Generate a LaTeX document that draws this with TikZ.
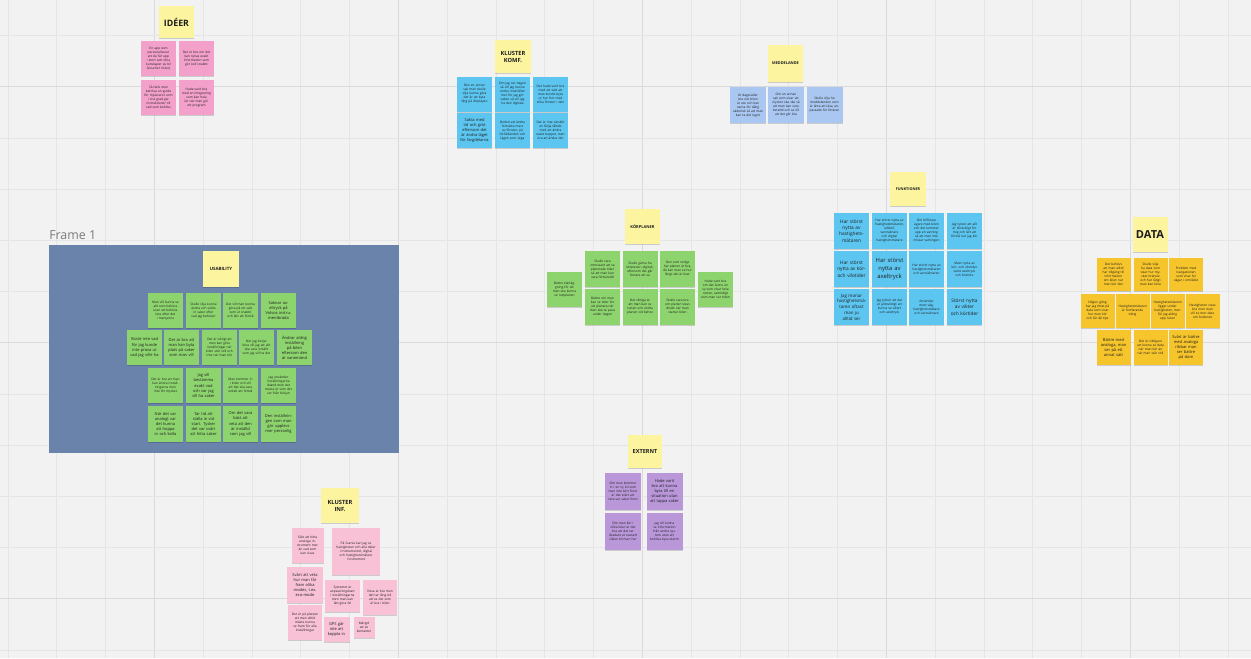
\documentclass[tikz,border=0pt]{standalone}
\usepackage{fontspec}
\setmainfont{Open Sans}
\usetikzlibrary{shadows}
\definecolor{bg}{HTML}{F2F2F2}
\definecolor{gridl}{HTML}{E5E5E5}
\definecolor{gridh}{HTML}{DADADA}
\definecolor{ink}{HTML}{1E1E1E}
\definecolor{hdr}{HTML}{FDF4A0}
\definecolor{pinkA}{HTML}{F3A1CB}
\definecolor{pinkB}{HTML}{F8C1D5}
\definecolor{cyanN}{HTML}{5CC6F0}
\definecolor{blueL}{HTML}{A9C7F1}
\definecolor{greenN}{HTML}{8DD46E}
\definecolor{yellowN}{HTML}{F6C52C}
\definecolor{purpleN}{HTML}{B997D9}
\definecolor{frameC}{HTML}{6A83AB}
\definecolor{frameT}{HTML}{7A7A7A}
\newcommand\ntT{\fontsize{2.4}{3.0}\selectfont}
\newcommand\ntS{\fontsize{3.0}{3.8}\selectfont}
\newcommand\ntM{\fontsize{3.6}{4.7}\selectfont}
\newcommand\ntH{\fontsize{4.3}{5.2}\selectfont\bfseries}
\tikzset{
  note/.style={rectangle, inner sep=0pt, align=center, text=ink,
    drop shadow={shadow xshift=0pt, shadow yshift=-1pt, opacity=0.16, fill=black}},
}
% name, cx, cy, w(px), h(px), colour, font, text
\newcommand\stk[8]{%
  \pgfmathsetmacro\stkw{#4*0.75}%
  \pgfmathsetmacro\stkh{#5*0.75}%
  \pgfmathsetmacro\stkt{(#4-6)*0.75}%
  \node[note, fill=#6, minimum width=\stkw pt, minimum height=\stkh pt,
        text width=\stkt pt, font=#7] (#1) at (#2,#3) {#8};}
\begin{document}
\begin{tikzpicture}[x=0.75pt,y=-0.75pt]
\useasboundingbox (0,0) rectangle (1251,658);
\fill[bg] (0,0) rectangle (1251,658);
% grid
\foreach \k in {0,...,25}{
  \pgfmathsetmacro\gx{8+48.8*\k}
  \pgfmathtruncatemacro\km{mod(\k,5)}
  \ifnum\km=3 \draw[gridh,line width=0.7pt] (\gx,0) -- (\gx,658);
  \else \draw[gridl,line width=0.6pt] (\gx,0) -- (\gx,658); \fi}
\foreach \k in {0,...,12}{
  \pgfmathsetmacro\gy{35.6+51.2*\k}
  \pgfmathtruncatemacro\km{mod(\k,5)}
  \ifnum\km=1 \draw[gridh,line width=0.7pt] (0,\gy) -- (1251,\gy);
  \else \draw[gridl,line width=0.6pt] (0,\gy) -- (1251,\gy); \fi}

% Frame 1
\node[anchor=south west, inner sep=0pt, text=frameT, font=\fontsize{9.3}{10}\selectfont] (flabel) at (49,240) {Frame 1};
\fill[frameC] (49,245) rectangle (399,453);
\coordinate (frameNW) at (49,245);

% ---------------- IDÉER
\stk{hI}{176.5}{22}{35}{32}{hdr}{\fontsize{6.6}{7}\selectfont\bfseries}{IDÉER}
\stk{i1}{158.5}{58.5}{35}{35}{pinkA}{\ntT}{En app som personaliserar att du får upp i stort sett dina kunskaper av bil (Voucher Volvo)}
\stk{i2}{196.5}{58.5}{35}{35}{pinkA}{\ntT}{Det är bra om det kan synas exakt information som gör koll snabbt}
\stk{i3}{158.5}{97.5}{35}{35}{pinkA}{\ntT}{Så tänk man behöva en guide för mjukvaror som i viss grad ger instruktioner till vad som behövs}
\stk{i4}{196.5}{97.5}{35}{35}{pinkA}{\ntT}{Hade varit bra med en integrering som kan hela lär när man gör ett program}

% ---------------- KLUSTER KOMF.
\stk{hK}{513}{56.5}{36}{33}{hdr}{\ntH}{KLUSTER\\KOMF.}
\stk{k1}{474.5}{94}{35}{35}{cyanN}{\ntT}{Den en annan sak man skulle vilja kunna göra det är att byta färg på displayen}
\stk{k2}{512.5}{94}{35}{35}{cyanN}{\ntT}{Om jag ser dagen så vill jag kunna ändra innehållet mer för jag gör saken så vill jag ha den digitala}
\stk{k3}{550.5}{94}{35}{35}{cyanN}{\ntT}{Det hade varit bra med ett sätt att man kunde byta ut hur fort med olika fönster i den}
\stk{k4}{474.5}{130.5}{35}{35}{cyanN}{\ntS}{Sakta med tid och gröt eftersom det är ändra läget för fargdelarna}
\stk{k5}{512.5}{130.5}{35}{35}{cyanN}{\ntT}{Bodeit att ändra fortsätta mest av fönster, på förhållanden och lägen som väga}
\stk{k6}{550.5}{130.5}{35}{35}{cyanN}{\ntT}{Det är inte särskilt en fånja tåltids med att ändra exakt boppet, men bra att ändra det}

% ---------------- MEDDELANDE
\stk{hM}{785.5}{63.5}{35}{37}{hdr}{\fontsize{2.9}{3.4}\selectfont\bfseries}{MEDDELANDE}
\stk{m1}{748}{105}{36}{36}{blueL}{\ntT}{Är dagsväder bra när bilen är ute och kan varna för dålig väderlek så att man kan ta det lugnt}
\stk{m2}{786}{105}{36}{36}{blueL}{\ntT}{Om en annan sak som visar att olyckor ska ske så att man kan vara beredd och se till att det går bra}
\stk{m3}{824.5}{105}{36}{36}{blueL}{\ntT}{Skulle vilja ha meddelanden som är lätta att läsa, anpassade för föraren}

% ---------------- FUNKTIONER
\stk{hF}{908}{189}{36}{34}{hdr}{\fontsize{2.8}{3.3}\selectfont\bfseries}{FUNKTIONER}
\stk{f11}{851.5}{231}{35}{36}{cyanN}{\ntM}{Har störst nytta av hastighets-mätaren}
\stk{f12}{889.5}{231}{35}{36}{cyanN}{\ntT}{Har störst nytta av hastighetsmätaren, luftkoll, varvräknare och digital hastighetsmätare}
\stk{f13}{926.5}{231}{35}{36}{cyanN}{\ntT}{Om bilförare ägare med bilen och det kommer upp en varning så att man inte missar varningen}
\stk{f14}{964.5}{231}{35}{36}{cyanN}{\ntT}{Jag tycker att allt är tillräckligt för mig och lätt att förstå när jag kör}
\stk{f21}{851.5}{269}{35}{36}{cyanN}{\ntM}{Har störst nytta av kör- och vilotider}
\stk{f22}{889.5}{269}{35}{36}{cyanN}{\fontsize{4.4}{5.7}\selectfont}{Har störst nytta av axeltryck}
\stk{f23}{926.5}{269}{35}{36}{cyanN}{\ntT}{Har störst nytta av hastighetsmätaren och varvräknaren}
\stk{f24}{964.5}{269}{35}{36}{cyanN}{\ntT}{Mest nytta av kör- och vilotider samt axeltryck och bränsle}
\stk{f31}{851.5}{307}{35}{36}{cyanN}{\fontsize{3.3}{4.3}\selectfont}{Jag monar hastighetsmä-taren oftast man ju alltid ser}
\stk{f32}{889.5}{307}{35}{36}{cyanN}{\ntT}{Jag tycker att det är jätteviktigt att kunna se vikter och axeltryck}
\stk{f33}{926.5}{307}{35}{36}{cyanN}{\ntT}{Använder mest väg, hastighetsmätare och varvräknare}
\stk{f34}{964.5}{307}{35}{36}{cyanN}{\ntM}{Störst nytta av vikter och körtider}

% ---------------- DATA
\stk{hD}{1150}{234.5}{35}{35}{hdr}{\fontsize{8.3}{9}\selectfont\bfseries}{DATA}
\stk{d11}{1113.5}{274.5}{34}{33}{yellowN}{\ntT}{Det behövs att man alltid har tillgång till information om bilen när man kör den}
\stk{d12}{1150.5}{274.5}{34}{33}{yellowN}{\ntT}{Skulle vilja ha data som visar hur mycket bränsle och hur långt man kan köra}
\stk{d13}{1186}{274.5}{34}{33}{yellowN}{\ntT}{Problem med navigationen som visar fel vägar i området}
\stk{d21}{1097.5}{311}{34}{34}{yellowN}{\ntT}{Någon gång har jag tittat på data som visar hur man kör och får då tips}
\stk{d22}{1132.5}{311}{34}{34}{yellowN}{\ntT}{Hastighetsmätaren är fortfarande viktig}
\stk{d23}{1167.5}{311}{34}{34}{yellowN}{\ntT}{Hastighetsmätaren ligger under hastigheten, men får jag aldrig upp rutan}
\stk{d24}{1202.5}{311}{34}{34}{yellowN}{\ntT}{Hastigheten visas bra men man vill se mer data om fordonet}
\stk{d31}{1113.5}{347.5}{34}{35}{yellowN}{\ntS}{Bättre med analoga, man ser på ett annat sätt}
\stk{d32}{1150.5}{347.5}{34}{35}{yellowN}{\ntT}{Det är viktigare att kunna se data när man kör än när man står still}
\stk{d33}{1186}{347.5}{34}{35}{yellowN}{\ntS}{Svårt är bättre med analoga ribbar man ser bättre på dom}

% ---------------- KÖRPLANER
\stk{hP}{642.5}{226.5}{35}{35}{hdr}{\fontsize{3.0}{3.5}\selectfont\bfseries}{KÖRPLANER}
\stk{pL}{564.5}{289.5}{35}{35}{greenN}{\ntT}{Bättre klarläggning för att man ska kunna se ruttplanen}
\stk{p11}{602.5}{269}{35}{36}{greenN}{\ntT}{Skulle vara intressant att se planerade tider så att man kan vara förberedd}
\stk{p12}{640}{269}{35}{36}{greenN}{\ntT}{Skulle gärna ha körplaner, digitalt, eftersom det går fortare att se}
\stk{p13}{677.5}{269}{35}{36}{greenN}{\ntT}{Den som redigt har planen är bra, då kan man se hur långt det är kvar}
\stk{p21}{602.5}{306.5}{35}{36}{greenN}{\ntT}{Bättre om man kan se tider för att planera när man ska ta paus under dagen}
\stk{p22}{640}{306.5}{35}{36}{greenN}{\ntT}{Det viktiga är att man kan se rutten och ändra planen vid behov}
\stk{p23}{677.5}{306.5}{35}{36}{greenN}{\ntT}{Skulle vara bra om planen visas direkt när man startar bilen}
\stk{pR}{715.5}{289.5}{35}{35}{greenN}{\ntT}{Hade varit bra om det fanns en vy som visar hela rutten, samtidigt som man ser tiden}

% ---------------- USABILITY
\stk{hU}{221}{269}{36}{36}{hdr}{\fontsize{3.3}{3.8}\selectfont\bfseries}{USABILITY}
\stk{u11}{165.5}{310.5}{35}{35}{greenN}{\ntT}{Man vill kunna se allt som behövs utan att behöva leta efter det i menyerna}
\stk{u12}{203.5}{310.5}{35}{35}{greenN}{\ntT}{Skulle vilja kunna ändra och ställa in saker efter vad jag behöver}
\stk{u13}{240.5}{310.5}{35}{35}{greenN}{\ntT}{Det vill man kunna göra på ett sätt som är snabbt och lätt att förstå}
\stk{u14}{278.5}{310.5}{35}{35}{greenN}{\ntS}{Saknar axeltryck på Volvos instrumentbräda}
\stk{u21}{144.5}{347.5}{35}{35}{greenN}{\ntS}{Visste inte vad för jag kunde inte prova ut vad jag ville ha}
\stk{u22}{181.5}{347.5}{35}{35}{greenN}{\ntS}{Det är bra att man kan byta plats på saker som man vill}
\stk{u23}{219.5}{347.5}{35}{35}{greenN}{\ntT}{Det är viktigt att man kan göra inställningar när bilen står still och inte när man kör}
\stk{u24}{256.5}{347.5}{35}{35}{greenN}{\ntT}{När jag börjar köra vill jag att allt ska vara inställt som jag vill ha det}
\stk{u25}{294.5}{347.5}{35}{35}{greenN}{\ntS}{Ändrar aldrig inställning på bilen eftersom den är vanemänd}
\stk{u31}{165.5}{385.5}{35}{35}{greenN}{\ntT}{Det är bra att man kan ändra inställningarna men inte för mycket}
\stk{u32}{203.5}{385.5}{35}{35}{greenN}{\ntS}{Jag vill bestämma exakt vad och var jag vill ha saker}
\stk{u33}{240.5}{385.5}{35}{35}{greenN}{\ntT}{Man kommer in i bilen och vill att det ska vara enkelt att förstå}
\stk{u34}{278.5}{385.5}{35}{35}{greenN}{\ntT}{Jag använder inställningarna ibland men det mesta är som det var från början}
\stk{u41}{165.5}{424}{35}{36}{greenN}{\ntS}{När det var analogt var det kunna att hoppa in och kolla}
\stk{u42}{203.5}{424}{35}{36}{greenN}{\ntS}{Tar tid att ställa in vid start. Tycker det var svårt att hitta saker}
\stk{u43}{240.5}{424}{35}{36}{greenN}{\ntS}{Om det vara bäst att veta att den är inställd som jag vill}
\stk{u44}{278.5}{424}{35}{36}{greenN}{\ntS}{Den inställningen som man gör upplevs mer personlig}

% ---------------- EXTERNT
\stk{hE}{645}{451.5}{34}{33}{hdr}{\fontsize{4.2}{5}\selectfont\bfseries}{EXTERNT}
\stk{e1}{623}{491.5}{36}{37}{purpleN}{\ntT}{Om man kommer in i en ny bil som man inte kört förut är det svårt att veta var saker finns}
\stk{e2}{664.5}{491.5}{36}{37}{purpleN}{\ntS}{Hade varit bra att kunna byta till en situation utan att tappa saker}
\stk{e3}{623}{531.5}{36}{37}{purpleN}{\ntT}{Om man kör i olika bilar är det bra att det ser likadant ut oavsett vilken bil man har}
\stk{e4}{664.5}{531.5}{36}{37}{purpleN}{\ntT}{Jag vill kunna se information från andra system utan att behöva byta skärm}

% ---------------- KLUSTER INF.
\stk{hC}{340}{505.5}{38}{35}{hdr}{\ntH}{KLUSTER\\INF.}
\stk{c1}{307.5}{545}{32}{35}{pinkB}{\ntT}{Sökt att hitta analoga instrument mer än vad som kan visas}
\stk{c2}{356}{551.5}{48}{47}{pinkB}{\ntT}{På Scania kan jag se hastigheten och alla delar i instrumentet, digital och hastighetsmätare i instrument}
\stk{c3}{305}{585}{36}{36}{pinkB}{\ntS}{Svårt att veta hur man får fram olika modes, t.ex. eco-mode}
\stk{c4}{342.5}{596}{35}{32}{pinkB}{\ntT}{Systemet är anpassningsbart i inställningarna men man kan lätt göra fel}
\stk{c5}{380}{597.5}{34}{35}{pinkB}{\ntT}{Vissa är bra men det tar lång tid att se det som är bra i bilen}
\stk{c6}{305}{622.5}{34}{35}{pinkB}{\ntT}{Det är på platsen att man alltid måste kunna se fram för alla inställningar}
\stk{c7}{336.5}{629.5}{26}{25}{pinkB}{\ntS}{GPS går inte att koppla in}
\stk{c8}{364}{627.5}{21}{21}{pinkB}{\ntT}{Mängd att se kontakter}
\end{tikzpicture}
\end{document}
